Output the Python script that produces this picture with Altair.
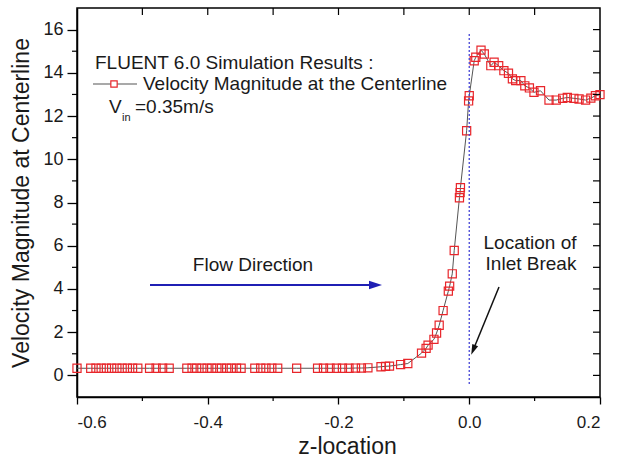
import altair as alt
import pandas as pd

# ---------------- data ----------------
z_loc = [-0.600, -0.579, -0.571, -0.563, -0.555, -0.547, -0.539, -0.531, -0.523, -0.515,
         -0.507, -0.489, -0.479, -0.469, -0.459, -0.432, -0.424, -0.417, -0.409, -0.401,
         -0.394, -0.386, -0.379, -0.371, -0.364, -0.356, -0.349, -0.328, -0.319, -0.311,
         -0.302, -0.293, -0.264, -0.232, -0.223, -0.213, -0.203, -0.194, -0.184, -0.174,
         -0.165, -0.155, -0.135, -0.128, -0.122, -0.105, -0.094,
         -0.073, -0.066, -0.063, -0.054, -0.050, -0.046, -0.040, -0.032, -0.030, -0.026,
         -0.023, -0.015, -0.014, -0.0135, -0.004, -0.001, 0.000, 0.0076, 0.010, 0.018,
         0.023, 0.033, 0.038, 0.045, 0.053, 0.060, 0.066, 0.071, 0.079, 0.085,
         0.092, 0.099, 0.109, 0.122, 0.133, 0.143, 0.150, 0.160, 0.168, 0.178,
         0.186, 0.193, 0.200]
velocity = [0.33, 0.33, 0.33, 0.33, 0.33, 0.33, 0.33, 0.33, 0.33, 0.33,
            0.33, 0.33, 0.33, 0.33, 0.33, 0.33, 0.33, 0.33, 0.33, 0.33,
            0.33, 0.33, 0.33, 0.33, 0.33, 0.33, 0.33, 0.33, 0.33, 0.33,
            0.33, 0.33, 0.33, 0.33, 0.33, 0.33, 0.33, 0.33, 0.33, 0.34,
            0.34, 0.35, 0.40, 0.42, 0.43, 0.50, 0.55,
            1.03, 1.25, 1.40, 1.67, 1.96, 2.32, 3.00, 3.90, 4.13, 4.70,
            5.78, 8.22, 8.46, 8.69, 11.32, 12.70, 12.94, 14.56, 14.72, 15.05,
            14.87, 14.33, 14.49, 14.33, 14.10, 13.98, 13.72, 13.64, 13.64, 13.40,
            13.30, 13.10, 13.17, 12.74, 12.74, 12.82, 12.86, 12.82, 12.79, 12.74,
            12.83, 12.94, 12.99]

inlet_z = [0.0]
inlet_v_low = [-0.4]
inlet_v_high = [15.86]

x_major = [-0.6, -0.4, -0.2, 0.0, 0.2]
x_minor = [-0.5, -0.3, -0.1, 0.1]
x_top = [-0.5, -0.4, -0.3, -0.2, -0.1, 0.0, 0.1]
y_major = [0, 2, 4, 6, 8, 10, 12, 14, 16]
y_minor = [1, 3, 5, 7, 9, 11, 13, 15]
y_right = [0, 1, 2, 3, 4, 5, 6, 7, 8, 9, 10, 11, 12, 13, 14, 15, 16]

txt_title = ["FLUENT 6.0 Simulation Results :"]
txt_legend = ["Velocity Magnitude at the Centerline"]
txt_v = ["V"]
txt_sub = ["in"]
txt_vval = ["=0.35m/s"]
txt_flow = ["Flow Direction"]
txt_loc1 = ["Location of"]
txt_loc2 = ["Inlet Break"]

# ---------------- chart ----------------
W, H = 523, 389
FONT = "Liberation Sans"
TXT = "#1a1a1a"
RED = "#e8262b"

xs = alt.Scale(domain=[-0.6, 0.2], nice=False, zero=False)
ys = alt.Scale(domain=[-1, 17], nice=False, zero=False)

x_axis = alt.Axis(
    values=x_major, labelExpr="replace(format(datum.value, '.1f'), '\u2212', '-')",
    tickSize=7, tickWidth=1.3, labelPadding=10, labelFontSize=17, labelFont=FONT,
    labelColor=TXT, grid=False, domainColor="black", domainWidth=1.5, tickColor="black",
    title="z-location", titleFontSize=23, titleFont=FONT, titleFontWeight="normal",
    titleColor=TXT, titleX=270, titleY=38, titleBaseline="top", titleAlign="center")
y_axis = alt.Axis(
    values=y_major, tickSize=10, tickWidth=1.3, labelPadding=4, labelFontSize=18,
    labelFont=FONT, labelColor=TXT, grid=False, domainColor="black", domainWidth=1.5,
    tickColor="black", title="Velocity Magnitude at Centerline", titleFontSize=23,
    titleFont=FONT, titleFontWeight="normal", titleColor=TXT, titleX=-44, titleY=194.5,
    titleBaseline="bottom", titleAlign="center")


def X(field):
    return alt.X(field, scale=xs, axis=x_axis)


def Y(field):
    return alt.Y(field, scale=ys, axis=y_axis)


df = pd.DataFrame({"z": z_loc, "v": velocity})

base = alt.Chart(df)
line = base.mark_line(color="#555555", strokeWidth=1).encode(x=X("z:Q"), y=Y("v:Q"))
pts = base.mark_point(shape="square", size=66, filled=False, color=RED,
                      strokeWidth=1.2, opacity=1).encode(x=X("z:Q"), y=Y("v:Q"))

inlet = alt.Chart(pd.DataFrame({"z": inlet_z, "v": inlet_v_low, "v1": inlet_v_high})).mark_rule(
    color="#4747d6", strokeWidth=1.3, strokeDash=[2, 2]).encode(
    x=X("z:Q"), y=Y("v:Q"), y2="v1:Q")

# extra ticks (minor and mirrored)
tick_style = dict(color="black", strokeWidth=1.2)
xminor = alt.Chart(pd.DataFrame({"z": x_minor})).mark_rule(**tick_style).encode(
    x=X("z:Q"), y=alt.value(H), y2=alt.value(H + 4))
xtop = alt.Chart(pd.DataFrame({"z": x_top})).mark_rule(**tick_style).encode(
    x=X("z:Q"), y=alt.value(0), y2=alt.value(7))
yminor = alt.Chart(pd.DataFrame({"v": y_minor})).mark_rule(**tick_style).encode(
    y=Y("v:Q"), x=alt.value(-5), x2=alt.value(0))
yright = alt.Chart(pd.DataFrame({"v": y_right})).mark_rule(**tick_style).encode(
    y=Y("v:Q"), x=alt.value(W - 7), x2=alt.value(W))


def label(text, x, y, size=19, align="left"):
    return alt.Chart(pd.DataFrame({"t": text})).mark_text(
        font=FONT, fontSize=size, color=TXT, align=align, baseline="middle").encode(
        text="t:N", x=alt.value(x), y=alt.value(y))


t1 = label(txt_title, 18, 55)
t2 = label(txt_legend, 66, 76)
t3 = label(txt_v, 32, 99)
t4 = label(txt_sub, 45, 110, size=11)
t5 = label(txt_vval, 58, 99)
t6 = label(txt_flow, 176, 257, align="center")
t7 = label(txt_loc1, 453, 235, align="center")
t8 = label(txt_loc2, 454, 256, align="center")

one = pd.DataFrame({"k": [0]})
leg_line = alt.Chart(one).mark_rule(color="#555555", strokeWidth=1.2).encode(
    x=alt.value(16), x2=alt.value(60), y=alt.value(76))
leg_pt = alt.Chart(one).mark_point(shape="square", size=40, filled=True, fill="white",
                                   stroke=RED, strokeWidth=1.2, opacity=1).encode(
    x=alt.value(37), y=alt.value(76))

flow_line = alt.Chart(one).mark_rule(color="#1f1fb4", strokeWidth=2).encode(
    x=alt.value(73), x2=alt.value(298), y=alt.value(277))
flow_head = alt.Chart(one).mark_point(shape="M1,0L-1,-0.65L-1,0.65Z", size=169, filled=True,
                                      color="#1f1fb4", opacity=1).encode(
    x=alt.value(298.5), y=alt.value(277))

loc_line = alt.Chart(one).mark_rule(color="#111111", strokeWidth=1.5).encode(
    x=alt.value(422), y=alt.value(279), x2=alt.value(397), y2=alt.value(340))
loc_head = alt.Chart(one).mark_point(shape="M1,0L-1,-0.6L-1,0.6Z", size=110, filled=True,
                                     color="#111111", opacity=1, angle=112.4).encode(
    x=alt.value(396.2), y=alt.value(342))

chart = alt.layer(
    line, pts, inlet, xminor, xtop, yminor, yright,
    t1, leg_line, leg_pt, t2, t3, t4, t5, t6, t7, t8,
    flow_line, flow_head, loc_line, loc_head
).properties(
    width=W, height=H,
    autosize=alt.AutoSizeParams(type="none"),
    padding={"left": 77, "top": 8, "right": 24, "bottom": 61},
    background="white"
).configure_view(stroke="black", strokeWidth=1.5)

chart.save("out.html", embed_options={"renderer": "svg", "actions": False})
